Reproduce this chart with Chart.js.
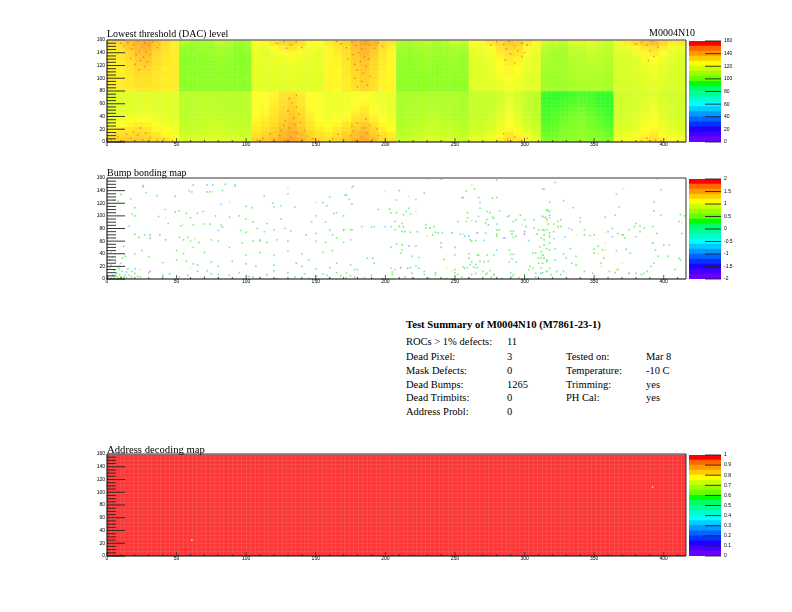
<!DOCTYPE html>
<html>
<head>
<meta charset="utf-8">
<title>M0004N10</title>
<script src="https://cdn.jsdelivr.net/npm/chart.js@4"></script>
<style>
html, body { margin: 0; padding: 0; background: #fff; }
canvas { position: absolute; }
.t { position: absolute; font-family: 'Liberation Serif', serif; font-size: 10.5px; line-height: 12px; color: #000; white-space: nowrap; }
.b { font-weight: bold; font-size: 10.7px; }
.h { font-size: 10px; }
</style>
</head>
<body>
<canvas id="thresholdMap" width="603" height="117" style="left:87px;top:35px"></canvas>
<canvas id="thresholdBar" width="70" height="117" style="left:687px;top:35px"></canvas>
<canvas id="bumpMap" width="603" height="116" style="left:87px;top:173px"></canvas>
<canvas id="bumpBar" width="70" height="116" style="left:687px;top:173px"></canvas>
<canvas id="addressMap" width="603" height="117" style="left:87px;top:449px"></canvas>
<canvas id="addressBar" width="70" height="117" style="left:687px;top:449px"></canvas>

<div class="t h" style="left:107px;top:28px">Lowest threshold (DAC) level</div>
<div class="t h" style="left:649px;top:27px">M0004N10</div>
<div class="t h" style="left:107px;top:167px">Bump bonding map</div>
<div class="t" style="left:107px;top:443px;font-size:10.7px">Address decoding map</div>

<div class="t b" style="left:406px;top:318px">Test Summary of M0004N10 (M7861-23-1)</div>
<div class="t" style="left:406px;top:336px">ROCs &gt; 1% defects:</div><div class="t" style="left:507px;top:336px">11</div>
<div class="t" style="left:406px;top:351px">Dead Pixel:</div><div class="t" style="left:507px;top:351px">3</div>
<div class="t" style="left:406px;top:365px">Mask Defects:</div><div class="t" style="left:507px;top:365px">0</div>
<div class="t" style="left:406px;top:379px">Dead Bumps:</div><div class="t" style="left:507px;top:379px">1265</div>
<div class="t" style="left:406px;top:392px">Dead Trimbits:</div><div class="t" style="left:507px;top:392px">0</div>
<div class="t" style="left:406px;top:406px">Address Probl:</div><div class="t" style="left:507px;top:406px">0</div>
<div class="t" style="left:566px;top:351px">Tested on:</div><div class="t" style="left:646px;top:351px">Mar 8</div>
<div class="t" style="left:566px;top:365px">Temperature:</div><div class="t" style="left:646px;top:365px">-10 C</div>
<div class="t" style="left:566px;top:379px">Trimming:</div><div class="t" style="left:646px;top:379px">yes</div>
<div class="t" style="left:566px;top:392px">PH Cal:</div><div class="t" style="left:646px;top:392px">yes</div>

<script>
// Axis labels
const colLabels = [0, 50, 100, 150, 200, 250, 300, 350, 400];
const rowLabels = [0, 20, 40, 60, 80, 100, 120, 140, 160];
const thresholdScale = [0, 20, 40, 60, 80, 100, 120, 140, 160];
const bumpScale = [-2, -1.5, -1, -0.5, 0, 0.5, 1, 1.5, 2];
const addressScale = [0, 0.1, 0.2, 0.3, 0.4, 0.5, 0.6, 0.7, 0.8, 0.9, 1];

// Threshold levels, top row first. 8 cells per ROC, 8 ROCs per line
const thresholdLevels = [
  [128,133,140,147,150,140,130,124, 106,104,103,105,108,106,103,104, 120,122,126,132,135,128,122,121, 124,128,134,144,152,146,130,126, 106,104,106,108,105,107,110,108, 120,122,125,131,136,134,126,122, 112,110,108,113,114,116,112,110, 118,124,130,136,142,132,124,126],
  [125,128,136,144,146,136,127,124, 102,101,103,101,104,103,100,102, 118,117,120,124,127,123,119,118, 122,125,130,140,147,140,128,123, 103,102,104,105,103,104,105,104, 117,118,121,127,132,130,122,118, 108,106,105,109,110,112,110,109, 116,117,122,126,130,124,118,117],
  [124,126,132,141,142,132,126,124, 100,101,100,102,103,102,99,100, 117,116,118,120,122,119,117,116, 122,124,128,138,145,137,126,122, 102,101,102,104,102,103,104,102, 116,117,119,124,128,126,120,117, 106,104,104,108,108,110,109,108, 114,115,118,122,124,120,116,115],
  [124,125,130,138,139,130,125,124, 99,100,100,101,102,101,100,99, 117,116,117,118,119,118,117,116, 122,123,127,136,142,134,125,122, 101,100,102,103,102,102,103,101, 116,116,118,122,125,123,118,116, 105,104,104,107,108,109,108,107, 114,114,116,119,121,118,115,114],
  [124,124,128,135,136,129,125,124, 99,99,100,100,101,101,99,99, 116,116,116,117,118,117,116,116, 122,123,126,134,140,132,124,122, 101,100,101,102,101,101,102,101, 115,116,117,120,124,122,117,116, 104,104,104,106,107,108,108,106, 113,114,115,118,120,117,115,114],
  [124,124,127,132,133,127,124,124, 99,100,99,100,101,100,99,99, 116,116,116,117,117,117,116,116, 122,122,125,132,138,131,124,122, 101,100,101,102,100,101,102,101, 115,115,117,120,122,121,117,116, 104,103,104,106,107,107,107,106, 113,113,115,117,118,116,114,114],
  [125,124,126,130,130,126,125,124, 100,99,100,101,100,101,100,99, 116,115,116,116,117,116,116,115, 122,122,125,131,137,130,123,122, 100,100,101,101,100,102,101,101, 115,116,117,119,122,120,116,115, 103,103,104,105,106,107,106,105, 113,114,114,116,118,115,114,113],
  [125,124,125,128,128,125,124,124, 100,100,100,100,101,100,100,100, 116,116,115,116,116,116,115,115, 122,122,124,130,135,129,123,122, 100,100,100,101,101,101,101,100, 115,115,116,118,120,118,116,115, 103,102,103,105,106,106,106,105, 113,113,114,116,117,115,114,113],
  [124,124,125,127,127,125,124,124, 100,99,100,100,100,100,100,99, 116,115,115,116,116,115,115,115, 122,122,124,129,134,128,123,122, 100,100,100,100,101,101,100,100, 115,115,116,117,119,118,116,115, 103,102,103,104,105,106,105,104, 113,113,114,115,116,115,114,113],
  [124,124,124,126,126,125,124,124, 100,100,100,100,100,100,100,100, 116,116,115,115,116,115,115,116, 123,122,124,128,132,127,123,122, 100,100,100,101,100,100,100,100, 115,115,115,117,118,117,115,115, 103,103,103,104,105,105,105,104, 113,113,113,115,116,114,114,113],
  [115,115,115,115,115,115,115,115, 108,108,108,108,108,108,108,109, 121,121,122,126,128,124,121,120, 118,118,118,119,120,118,117,117, 105,105,105,106,106,106,106,105, 110,110,110,112,115,112,109,108, 91,90,90,91,92,92,90,90, 112,112,113,114,115,113,112,112],
  [115,115,115,115,116,115,115,115, 108,108,108,108,108,108,108,108, 120,121,123,127,130,125,121,120, 118,118,118,120,121,118,117,117, 105,105,106,106,106,106,106,105, 110,110,110,113,116,113,110,108, 90,90,91,92,93,92,90,90, 112,112,113,115,116,113,112,112],
  [115,115,115,116,116,115,115,115, 108,108,108,109,108,108,108,108, 120,121,124,128,132,126,121,120, 118,118,119,121,122,119,118,117, 105,106,106,107,107,106,106,105, 110,110,111,113,117,114,110,108, 91,91,92,93,94,93,91,90, 112,113,113,115,117,114,113,112],
  [115,115,116,116,117,116,115,115, 108,108,109,109,109,108,108,108, 120,122,125,130,135,128,122,120, 118,118,119,122,124,120,118,117, 105,106,107,107,107,107,106,105, 110,110,111,114,118,114,110,108, 91,92,93,95,96,94,92,91, 112,113,114,116,118,114,113,112],
  [116,116,117,118,118,117,116,115, 108,109,109,110,109,109,108,108, 121,122,126,132,137,130,123,120, 118,119,120,124,127,122,119,118, 105,106,107,108,108,107,106,106, 110,110,112,115,119,115,111,108, 92,93,94,96,97,95,93,91, 112,113,115,117,119,115,113,112],
  [117,118,119,120,120,118,117,116, 109,109,110,110,110,109,109,108, 122,124,128,135,140,132,124,121, 119,120,122,127,130,124,120,118, 106,107,108,108,109,108,107,106, 110,111,112,116,120,116,111,109, 92,93,95,97,97,96,94,92, 113,114,115,118,120,116,114,113],
  [119,120,122,124,123,120,118,117, 109,110,110,111,111,110,109,109, 123,126,131,138,143,135,126,122, 120,122,126,132,136,128,122,119, 106,107,108,110,110,109,108,107, 111,111,113,117,121,117,112,110, 93,94,96,98,98,96,95,93, 113,114,116,119,121,117,115,113],
  [122,124,126,128,126,122,120,118, 110,110,111,112,112,111,110,110, 125,128,134,141,146,138,128,124, 122,125,130,137,141,133,124,121, 107,108,109,111,111,110,109,108, 112,112,114,118,122,119,114,111, 94,95,97,98,99,97,96,94, 114,115,117,120,122,118,116,114],
  [126,130,131,132,130,126,122,120, 111,112,112,113,113,112,112,111, 128,133,138,145,150,143,132,127, 125,129,135,142,146,138,128,124, 108,109,111,112,112,111,110,109, 114,114,116,120,125,122,117,113, 95,96,98,99,100,98,97,95, 116,117,119,122,125,120,118,116],
  [132,136,137,136,134,130,126,122, 113,114,114,115,115,114,114,113, 132,137,142,149,153,147,136,130, 128,133,139,146,150,142,132,127, 110,111,112,114,114,113,112,111, 117,117,119,124,130,126,120,116, 97,98,100,101,102,100,99,97, 118,120,122,125,128,124,121,119]
];

// Hot pixels standing out in the threshold map, as [column, row]
const thresholdHot = [
  [15,156],[19,152],[22,158],[25,149],[27,155],[30,151],[18,146],[23,143],[28,141],[21,137],[26,133],[24,128],[29,126],[20,122],[27,118],[23,113],[12,150],[33,157],[36,148],[10,155],[31,137],[17,131],
  [3,3],[8,8],[12,2],[17,6],[22,11],[26,3],[31,7],[36,2],[6,14],[14,12],[19,16],[28,14],[41,5],[47,2],[11,20],[24,22],
  [120,4],[124,10],[128,2],[132,7],[136,14],[140,3],[144,9],[125,18],[131,22],[135,27],[128,33],[134,38],[138,44],[130,49],[136,55],[133,61],[131,68],[136,73],[117,13],[112,6],[148,5],[142,18],[127,26],[139,31],[152,2],[108,3],
  [122,155],[127,158],[132,152],[136,157],[140,149],[129,147],
  [168,154],[172,148],[176,157],[179,151],[183,146],[186,158],[189,152],[192,147],[195,156],[181,140],[185,134],[177,137],[188,130],[182,126],[178,122],[186,118],[180,113],[184,108],[189,103],[178,100],[183,95],[187,89],[180,86],[173,130],[198,150],[165,158],
  [170,4],[175,10],[179,2],[183,8],[187,14],[191,4],[195,10],[177,17],[184,22],[189,26],[180,30],[186,36],[176,25],[166,12],[200,3],[162,5],[194,20],
  [280,157],[285,153],[289,158],[293,150],[298,155],[302,152],[287,146],[295,143],[290,138],[298,134],[286,129],[293,124],[300,140],[276,152],
  [288,3],[293,8],[298,2],[285,13],[302,6],
  [384,157],[388,152],[392,158],[396,149],[380,154],[390,143],[393,134],[389,128],[394,3],[388,6],[398,2],[384,2]
];

// Bump map hits as [column, row]
const bumpGreen = [
  [1,3],[3,1],[4,5],[5,2],[6,10],[7,4],[8,1],[9,7],[10,3],[11,12],[12,3],[13,6],[5,14],[3,22],[2,18],[10,25],[14,2],[16,6],[17,1],[18,12],[20,9],[22,4],[8,17],[9,20],[11,33],[4,35],[6,40],[13,36],[20,40],[24,3],[15,16],[2,30],[26,148],[26,146],[28,137],[36,132],[49,131],[59,140],[61,138],[62,149],[72,138],[74,138],[85,150],[83,140],[92,147],[113,132],[130,135],[172,133],[176,145],[155,121],[158,116],[10,134],[5,125],[8,123],[17,127],[20,113],[100,115],[104,113],[120,114],[52,108],[57,104],[65,104],[69,107],[49,106],[60,97],[78,100],[88,98],[95,100],[100,95],[105,90],[115,88],[125,95],[150,100],[163,104],[170,100],[18,103],[20,100],[37,99],[44,88],[53,84],[62,86],[70,87],[74,87],[82,85],[96,77],[100,74],[108,80],[113,75],[120,78],[128,80],[132,76],[143,70],[150,72],[160,78],[162,70],[170,77],[175,78],[20,71],[23,66],[27,70],[31,70],[38,70],[42,62],[52,66],[55,62],[58,66],[60,60],[66,58],[75,62],[80,60],[97,57],[105,60],[110,62],[115,58],[122,62],[130,60],[150,60],[157,58],[165,65],[170,58],[175,62],[25,45],[30,35],[50,45],[55,40],[62,50],[70,42],[88,50],[100,38],[110,42],[120,38],[130,44],[140,40],[145,30],[155,42],[162,45],[40,26],[50,30],[57,28],[62,24],[65,22],[75,27],[80,20],[90,28],[100,24],[107,20],[120,22],[136,25],[140,20],[150,16],[160,18],[165,25],[175,22],[30,10],[40,5],[45,8],[52,3],[58,6],[65,12],[70,4],[75,8],[80,2],[88,6],[95,10],[102,4],[105,3],[110,2],[115,7],[122,1],[130,10],[135,3],[145,1],[150,4],[155,8],[158,6],[165,10],[172,2],[175,5],
  [177,147],[210,140],[228,136],[208,125],[222,126],[264,143],[280,157],[258,139],[255,129],[256,129],[267,129],[277,128],[280,129],[174,126],[176,119],[203,111],[204,105],[208,105],[215,107],[213,102],[217,112],[218,103],[268,112],[259,105],[259,97],[258,91],[265,91],[273,107],[275,105],[277,98],[278,96],[272,89],[274,86],[288,99],[289,100],[297,101],[300,94],[294,94],[292,91],[316,110],[317,108],[318,101],[316,94],[315,98],[170,78],[183,83],[190,82],[192,83],[207,91],[210,83],[212,88],[213,83],[207,78],[214,75],[223,75],[218,74],[229,86],[229,81],[232,81],[235,83],[236,74],[234,70],[238,73],[248,73],[252,91],[261,62],[262,60],[265,61],[280,78],[282,78],[280,71],[280,68],[290,76],[292,76],[291,71],[294,68],[292,66],[307,81],[310,78],[313,78],[316,78],[309,71],[312,65],[314,62],[318,68],[318,73],[312,43],[316,48],[318,57],[313,38],[204,50],[208,55],[212,54],[222,52],[212,46],[211,41],[224,34],[187,33],[191,33],[192,25],[178,15],[180,15],[240,57],[240,50],[242,31],[260,40],[260,33],[262,27],[266,38],[267,38],[261,23],[268,28],[273,38],[278,38],[271,27],[274,28],[290,39],[292,39],[291,32],[289,27],[294,27],[306,41],[308,41],[310,33],[312,33],[314,33],[316,28],[310,25],[313,25],[207,15],[205,11],[205,7],[216,17],[224,17],[228,12],[228,7],[236,10],[236,7],[250,15],[250,10],[252,7],[256,19],[257,17],[265,23],[266,18],[270,12],[273,9],[275,13],[262,7],[272,7],[278,7],[290,10],[292,7],[291,4],[300,7],[304,20],[306,17],[303,15],[312,17],[316,12],[318,17],[319,7],[168,5],[172,9],[178,3],[185,2],[190,6],[198,1],[214,3],[219,1],[231,2],[244,1],[255,3],[260,1],[276,3],[284,1],[296,2],[308,3],
  [322,153],[328,124],[335,113],[316,109],[313,99],[315,97],[326,94],[324,91],[358,98],[365,101],[368,114],[398,141],[393,108],[398,101],[412,102],[415,100],[416,120],[317,87],[321,87],[324,83],[326,83],[343,78],[343,70],[347,69],[350,70],[363,80],[380,88],[370,70],[372,65],[367,72],[371,70],[379,83],[392,83],[386,81],[383,75],[395,72],[375,78],[413,72],[314,77],[314,70],[321,75],[314,54],[311,51],[313,38],[318,46],[322,48],[328,40],[333,48],[337,36],[316,30],[322,30],[330,33],[334,25],[337,22],[313,10],[316,12],[323,12],[326,7],[328,12],[343,12],[349,9],[350,41],[353,52],[350,47],[356,46],[366,45],[373,47],[376,41],[357,33],[355,25],[361,12],[365,10],[367,15],[380,9],[384,7],[386,9],[388,12],[391,20],[393,25],[392,57],[394,46],[400,54],[404,54],[396,36],[403,36],[408,15],[416,9],[412,30],[411,33],
  [60,160],[130,160],[240,158],[372,160],[395,159]
];
const bumpCyan = [
  [4,6],[7,9],[12,2],[14,11],[18,4],[9,15],[6,27],[20,16],[3,42],[12,52],[16,84],[83,82],[42,110],[72,149],[76,149],[92,149],[100,160],[82,118],[125,116],[135,114],[157,90],[147,90],[80,77],[119,120],[160,130],[165,105],[110,60],[25,160],[40,6],[72,13],[80,7],[120,13],[142,8],[160,2],
  [231,159],[241,160],[313,143],[171,133],[195,110],[268,122],[282,108],[267,99],[273,94],[280,87],[301,83],[307,94],[313,99],[200,83],[204,83],[212,75],[241,73],[254,71],[260,68],[257,68],[271,61],[272,73],[285,65],[286,65],[303,61],[217,52],[219,36],[250,50],[250,38],[280,46],[289,46],[204,17],[218,18],[222,21],[219,9],[259,18],[264,19],[265,9],[278,7],[308,9],[312,9],
  [176,78],[314,142],[318,122],[318,107],[318,97],[340,97],[340,91],[366,135],[332,80],[334,78],[329,67],[363,67],[383,84],[380,67],[393,122],[411,91],[321,64],[392,57],[360,75]
];
const bumpYellow = [
  [76,138],[63,63],[42,97],[60,18],[24,15],[88,122],[130,144],[55,86],[150,121],[172,79],[200,139],[217,131],[262,149],[222,108],[262,92],[298,86],[210,85],[230,68],[256,71],[244,17],[248,13],[263,19],[318,66],[316,90],[371,143],[338,69],[358,73],[358,46],[358,57],[353,41],[355,20],[366,14],[370,25],[413,89]
];
const bumpPurple = [[31,65],[31,12],[211,18],[266,73],[300,75],[300,71],[375,9]];

// Address map: every cell responds, two dead spots
const addressLevels = [
  1,1,1,1,1,1,1,1, 1,1,1,1,1,1,1,1, 1,1,1,1,1,1,1,1, 1,1,1,1,1,1,1,1,
  1,1,1,1,1,1,1,1, 1,1,1,1,1,1,1,1, 1,1,1,1,1,1,1,1, 1,1,1,1,1,1,1,1
];
const addressDead = [[61,25],[392,108]];

// ROOT rainbow palette, bottom band first
const palette = ['#6a00ff','#4400ff','#2200ff','#0033ff','#0066ff','#0099ff','#00ccff','#00ffff','#00ffcc','#00ff99',
                 '#00ff66','#00ff00','#66ff00','#99ff00','#ccff00','#ffff00','#ffcc00','#ff9900','#ff6600','#ff0000'];

const tickFont = { family: "'Liberation Sans', sans-serif", size: 5 };
const CELL_W = 6.5;
const CELL_H = 8;

function rgb(hex) {
    return [1, 3, 5].map(i => parseInt(hex.substr(i, 2), 16));
}

// Level to colour, softened a little like the original rendering.
// Hot cells are held back since the original is speckled there, not solid
function levelColor(v) {
    const shown = v > 125 ? 125 + (v - 125) * 0.45 : v;
    const p = Math.max(0, Math.min(19, shown / 160 * 20 - 0.1));
    const i = Math.floor(p);
    const a = rgb(palette[i]);
    const b = rgb(palette[Math.min(19, i + 1)]);
    const c = a.map((ch, k) => Math.round((ch + (b[k] - ch) * (p - i)) * 0.85 + 255 * 0.15));
    return `rgb(${c[0]},${c[1]},${c[2]})`;
}

// Frame and inward ROOT style ticks, positioned through the chart scales
function frameTicks() {
    return {
        id: 'frameTicks',
        afterDraw(chart) {
            const { ctx, chartArea: a, scales } = chart;
            const line = (x0, y0, x1, y1, color, w) => {
                ctx.strokeStyle = color;
                ctx.lineWidth = w;
                ctx.beginPath();
                ctx.moveTo(x0, y0);
                ctx.lineTo(x1, y1);
                ctx.stroke();
            };
            ctx.save();
            for (let v = 0; v <= 416; v += 10) {
                const x = scales.x.getPixelForValue(v);
                line(x, a.bottom, x, a.bottom - (v % 50 === 0 ? 4 : 2), '#333', 0.8);
            }
            for (let v = 0; v <= 160; v += 5) {
                const y = scales.y.getPixelForValue(v);
                line(a.left, y, a.left + (v % 20 === 0 ? 18 : 9), y, '#222', 0.9);
            }
            line(a.left, a.top, a.right, a.top, '#777', 1.4);
            line(a.left, a.bottom, a.right, a.bottom, '#000', 1);
            line(a.left, a.top, a.left, a.bottom, '#000', 1);
            line(a.right, a.top, a.right, a.bottom, '#333', 1);
            ctx.restore();
        }
    };
}

function mapScales(grain) {
    return {
        x: {
            type: 'linear', min: 0, max: 416, offset: false,
            afterBuildTicks: s => { s.ticks = colLabels.map(v => ({ value: v })); },
            afterFit: s => { s.height = 10; },
            grid: { display: false, drawTicks: false },
            border: { display: false },
            ticks: { font: tickFont, color: '#000', padding: 0, autoSkip: false, maxRotation: 0 }
        },
        y: {
            type: 'linear', min: 0, max: 160,
            afterBuildTicks: s => { s.ticks = rowLabels.map(v => ({ value: v })); },
            afterFit: s => { s.width = 20; },
            grid: { display: false, drawTicks: false },
            border: { display: false },
            ticks: { font: tickFont, color: '#000', padding: 2, autoSkip: false }
        },
        // faint readout grain over the cells
        grainX: {
            type: 'linear', axis: 'x', position: 'bottom', display: grain > 0, min: 0, max: 416,
            afterFit: s => { s.height = 0; },
            ticks: { stepSize: 3.25, display: false, autoSkip: false, maxRotation: 0 },
            grid: { color: `rgba(255,255,255,${grain})`, z: 1, drawTicks: false },
            border: { display: false }
        },
        grainY: {
            type: 'linear', axis: 'y', position: 'left', display: grain > 0, min: 0, max: 160,
            afterFit: s => { s.width = 0; },
            ticks: { stepSize: 6.5, display: false, autoSkip: false },
            grid: { color: `rgba(255,255,255,${grain})`, z: 1, drawTicks: false },
            border: { display: false }
        }
    };
}

const mapOptions = grain => ({
    responsive: false,
    animation: false,
    devicePixelRatio: 1,
    layout: { padding: { top: 4, right: 1 } },
    plugins: { legend: { display: false }, tooltip: { enabled: false }, title: { display: false } },
    scales: mapScales(grain)
});

function cellDatasets(rows, rowHeight) {
    return rows.map((levels, r) => ({
        data: levels.map((v, i) => ({
            x: (i + 0.5) * CELL_W,
            y: [160 - (r + 1) * rowHeight, 160 - r * rowHeight]
        })),
        backgroundColor: levels.map(levelColor),
        grouped: false,
        barPercentage: 1,
        categoryPercentage: 1,
        borderWidth: 0
    }));
}

function hits(points, color, radius) {
    return {
        type: 'scatter',
        order: -1,
        data: points.map(p => ({ x: p[0], y: p[1] })),
        backgroundColor: color,
        borderWidth: 0,
        pointStyle: 'rect',
        pointRadius: radius
    };
}

function colorBar(id, ticks) {
    const lo = ticks[0];
    const hi = ticks[ticks.length - 1];
    const step = (hi - lo) / palette.length;
    new Chart(document.getElementById(id), {
        type: 'bar',
        data: {
            labels: [''],
            datasets: palette.map((c, i) => ({
                data: [[lo + i * step, lo + (i + 1) * step]],
                backgroundColor: c,
                grouped: false,
                barPercentage: 1,
                categoryPercentage: 1,
                borderWidth: 0
            }))
        },
        options: {
            responsive: false,
            animation: false,
            devicePixelRatio: 1,
            layout: { padding: { top: 4, left: 2, bottom: 10 } },
            plugins: { legend: { display: false }, tooltip: { enabled: false } },
            scales: {
                x: { display: false },
                y: {
                    position: 'right',
                    min: lo,
                    max: hi,
                    afterBuildTicks: s => { s.ticks = ticks.map(v => ({ value: v })); },
                    afterFit: s => { s.width = 36; },
                    grid: { display: false, drawTicks: false },
                    border: { display: false },
                    ticks: { font: tickFont, color: '#000', padding: 3, autoSkip: false, callback: v => String(v) }
                }
            }
        },
        plugins: [{
            id: 'barTicks',
            afterDraw(chart) {
                const { ctx, chartArea: a, scales } = chart;
                ctx.save();
                ctx.strokeStyle = '#222';
                ctx.lineWidth = 0.9;
                ticks.forEach(v => {
                    const y = scales.y.getPixelForValue(v);
                    ctx.beginPath();
                    ctx.moveTo(a.right - 16, y);
                    ctx.lineTo(a.right, y);
                    ctx.stroke();
                });
                ctx.restore();
            }
        }]
    });
}

// Threshold map
new Chart(document.getElementById('thresholdMap'), {
    type: 'bar',
    data: {
        datasets: [
            hits(thresholdHot, 'rgba(248,100,50,0.8)', 1),
            ...cellDatasets(thresholdLevels, CELL_H)
        ]
    },
    options: mapOptions(0.06),
    plugins: [frameTicks()]
});
colorBar('thresholdBar', thresholdScale);

// Bump bonding map
new Chart(document.getElementById('bumpMap'), {
    type: 'scatter',
    data: {
        datasets: [
            hits(bumpGreen, '#78f078', 1.15),
            hits(bumpCyan, '#80d6ff', 1.15),
            hits(bumpYellow, '#f4f07c', 1.15),
            hits(bumpPurple, '#bc94f0', 1.15)
        ]
    },
    options: mapOptions(0),
    plugins: [frameTicks()]
});
colorBar('bumpBar', bumpScale);

// Address decoding map
new Chart(document.getElementById('addressMap'), {
    type: 'bar',
    data: {
        datasets: [
            hits(addressDead, '#ffd8d8', 1),
            ...cellDatasets([addressLevels], 160).map(d => ({ ...d, backgroundColor: '#fb3838' }))
        ]
    },
    options: mapOptions(0.08),
    plugins: [frameTicks()]
});
colorBar('addressBar', addressScale);
</script>
</body>
</html>
